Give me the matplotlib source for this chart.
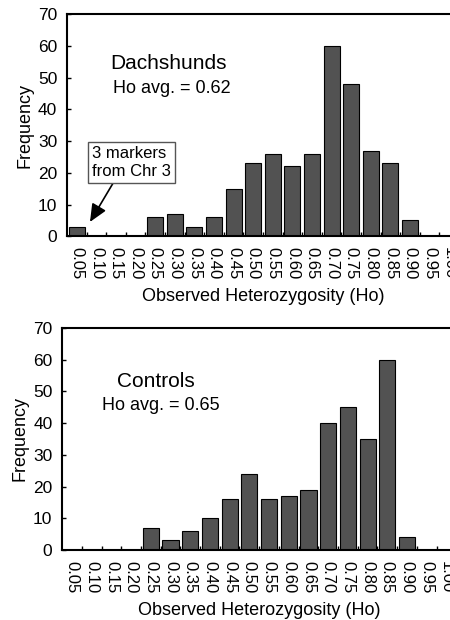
import numpy as np
from matplotlib import pyplot as plt

plt.rcParams['font.family'] = ['Liberation Sans', 'DejaVu Sans']

bins = ['0.05', '0.10', '0.15', '0.20', '0.25', '0.30', '0.35', '0.40', '0.45', '0.50',
        '0.55', '0.60', '0.65', '0.70', '0.75', '0.80', '0.85', '0.90', '0.95', '1.00']
dachshunds = [3, 0, 0, 0, 6, 7, 3, 6, 15, 23, 26, 22, 26, 60, 48, 27, 23, 5, 0, 0]
controls = [0, 0, 0, 0, 7, 3, 6, 10, 16, 24, 16, 17, 19, 40, 45, 35, 60, 4, 0, 0]

fig = plt.figure(figsize=(4.5, 6.2), dpi=100)
ax1 = fig.add_axes([0.149, 0.619, 0.871, 0.358])
ax2 = fig.add_axes([0.138, 0.113, 0.876, 0.358])

x = np.arange(len(bins))

def draw(ax, vals):
    ax.bar(x, vals, width=0.82, color='#525252', edgecolor='black', linewidth=0.8, zorder=2)
    ax.set_xlim(-0.5, len(bins) - 0.5)
    ax.set_ylim(0, 70)
    ax.set_yticks(range(0, 71, 10))
    ax.set_xticks(x)
    ax.set_xticklabels(bins, rotation=-90, fontsize=12)
    ax.set_xticks(x[:-1] + 0.5, minor=True)
    ax.tick_params(axis='x', which='major', length=0, pad=8)
    ax.tick_params(axis='x', which='minor', direction='in', length=3, width=1)
    ax.tick_params(axis='y', direction='in', length=3, width=1, labelsize=12.5, pad=7)
    for s in ax.spines.values():
        s.set_linewidth(1.5)
    ax.set_ylabel('Frequency', fontsize=13, labelpad=3)
    ax.set_xlabel('Observed Heterozygosity (Ho)', fontsize=13, labelpad=6)

draw(ax1, dachshunds)
draw(ax2, controls)

ax1.text(1.69, 54.5, 'Dachshunds', fontsize=15, va='center')
ax1.text(1.85, 46.7, 'Ho avg. = 0.62', fontsize=13, va='center')
ax1.annotate('3 markers\nfrom Chr 3', xy=(0.67, 4.5), xytext=(0.78, 23.3),
             fontsize=12, va='center', ha='left', linespacing=1.2,
             bbox=dict(boxstyle='square,pad=0.25', fc='white', ec='#555555', lw=1),
             arrowprops=dict(arrowstyle='-|>,head_width=0.4,head_length=0.9',
                             color='black', lw=1.2, shrinkA=0, shrinkB=0,
                             relpos=(0.3, 0)))

ax2.text(2.29, 53, 'Controls', fontsize=15, va='center')
ax2.text(1.53, 45.4, 'Ho avg. = 0.65', fontsize=13, va='center')

fig.savefig('out.png', dpi=100)
